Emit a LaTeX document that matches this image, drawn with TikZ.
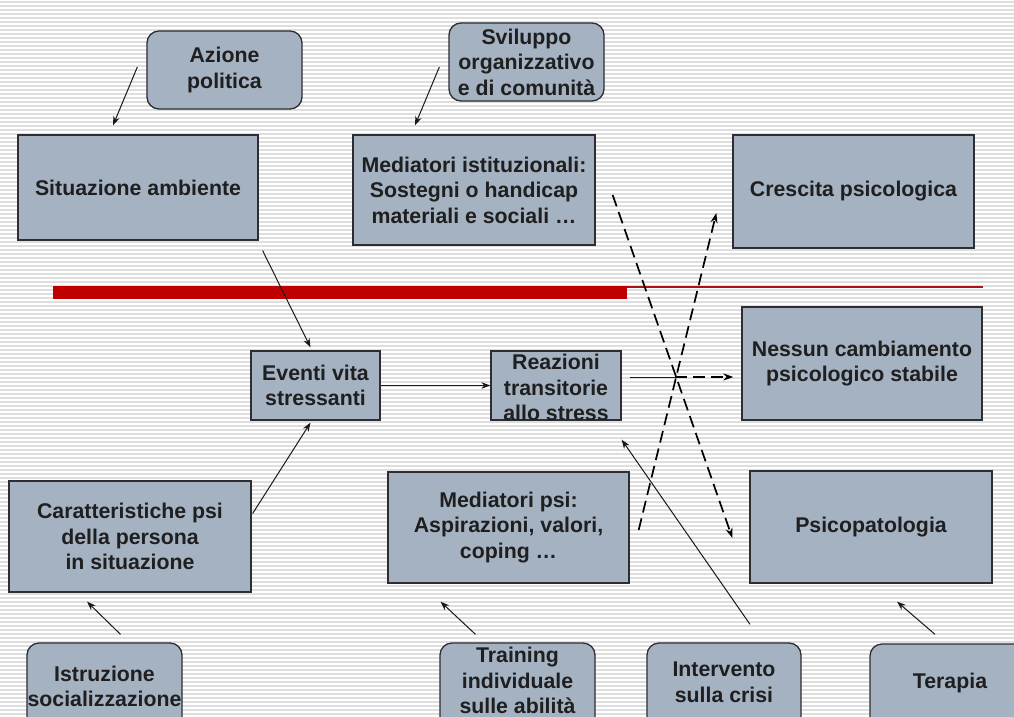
\documentclass[tikz,border=0pt]{standalone}
\usepackage{fontspec}
\setmainfont{Liberation Sans}
\usetikzlibrary{arrows.meta,calc}
\definecolor{boxfill}{RGB}{164,178,194}
\definecolor{boxline}{RGB}{45,45,50}
\definecolor{stripe}{RGB}{222,222,222}
\definecolor{barred}{RGB}{192,0,0}
\definecolor{thinred}{RGB}{170,20,20}
\begin{document}
\begin{tikzpicture}[x=1pt,y=-1pt,
  box/.style={draw=boxline, fill=boxfill, line width=1.3pt, inner sep=0pt, rectangle},
  rbox/.style={box, rounded corners=12pt},
  txt/.style={font=\bfseries\fontsize{21.3}{25.5}\selectfont, align=center, text=black!88, inner sep=0pt},
  link/.style={draw=black!90, line width=1pt, -{Stealth[length=9pt,width=6.5pt]}},
  dlink/.style={draw=black, line width=1.7pt, dash pattern=on 12pt off 6pt, -{Stealth[length=10pt,width=7pt]}}]
\useasboundingbox (0,0) rectangle (1014,717);
\clip (0,0) rectangle (1014,717);
% striped background
\fill[white] (0,0) rectangle (1014,717);
\foreach \y in {2,6,...,717} \draw[stripe, line width=1.2pt] (0,\y) -- (1014,\y);

% red divider
\fill[barred] (53,286) rectangle (627,299);
\draw[thinred, line width=1.1pt] (627,287) -- (983,287);

% top row
\node[rbox, minimum width=155, minimum height=78, label={[txt]center:{Azione\\politica}}] (azione) at (224.5,70) {};
\node[box, minimum width=240, minimum height=105, label={[txt]center:{Situazione ambiente}}] (situ) at (138,187.5) {};
\node[rbox, minimum width=155, minimum height=78, label={[txt]center:{Sviluppo\\organizzativo\\e di comunità}}] (svil) at (526.5,62) {};
\node[box, minimum width=242, minimum height=110, label={[txt]center:{Mediatori istituzionali:\\Sostegni o handicap\\materiali e sociali \dots}}] (medist) at (474,190) {};
\node[box, minimum width=241, minimum height=113, label={[txt]center:{Crescita psicologica}}] (cresc) at (853.5,191.5) {};

% middle row
\node[box, minimum width=240, minimum height=113, label={[txt]center:{Nessun cambiamento\\psicologico stabile}}] (nessun) at (862,363.5) {};
\node[box, minimum width=129, minimum height=69, label={[txt]center:{Eventi vita\\stressanti}}] (eventi) at (315.5,385.5) {};
\node[box, minimum width=130, minimum height=69, label={[txt,yshift=-2pt]center:{Reazioni\\transitorie\\allo stress}}] (reaz) at (556,385.5) {};

% lower row
\node[box, minimum width=242, minimum height=111, label={[txt]center:{Caratteristiche psi\\della persona\\in situazione}}] (caratt) at (130,536.5) {};
\node[box, minimum width=241, minimum height=111, label={[txt]center:{Mediatori psi:\\Aspirazioni, valori,\\coping \dots}}] (medpsi) at (508.5,527.5) {};
\node[box, minimum width=242, minimum height=112, label={[txt]center:{Psicopatologia}}] (psicop) at (871,527) {};

% interventions along the bottom edge
\node[rbox, minimum width=155, minimum height=87, label={[txt]center:{Istruzione\\\makebox[0pt]{socializzazione}}}] (istr) at (104.5,686.5) {};
\node[rbox, minimum width=155, minimum height=87, label={[txt,yshift=6pt]center:{Training\\individuale\\sulle abilità}}] (train) at (517.5,686.5) {};
\node[rbox, minimum width=154, minimum height=87, label={[txt,yshift=4pt]center:{Intervento\\sulla crisi}}] (interv) at (724,686.5) {};
\node[rbox, minimum width=160, minimum height=86, label={[txt,yshift=4pt]center:{Terapia}}] (terapia) at (950,687) {};

% influences
\draw[link] ($(azione.west)+(-9,-3)$) -- ($(situ.north)+(-25,-9)$);
\draw[link] ($(svil.west)+(-9,5)$) -- ($(medist.north)+(-59,-9)$);
\draw[link] ($(situ.south east)+(4,10)$) -- ($(eventi.north)+(-5,-3)$);
\draw[link] ($(caratt.east)+(1,-23)$) -- ($(eventi.south)+(-5,2)$);
\draw[link] ($(istr.north)+(16,-8)$) -- ($(caratt.south)+(-43,9)$);
\draw[link] (eventi.east) -- (reaz.west);
\draw[link] ($(train.north)+(-42,-8)$) -- ($(medpsi.south)+(-68,18)$);
\draw[link] ($(interv.north)+(26,-18)$) -- ($(reaz.south east)+(0,19)$);
\draw[link] ($(terapia.north)+(-15,-9)$) -- ($(psicop.south)+(26,18)$);

% outcomes
\coordinate (fork) at (675,377);
\draw[draw=black!90, line width=1pt] ($(reaz.east)+(8,-8.5)$) -- (fork);
\draw[dlink] (fork) -- ($(nessun.west)+(-8,13.5)$);
\draw[dlink] ($(medist.east)+(17,5)$) -- ($(psicop.west)+(-17,11)$);
\draw[dlink] ($(medpsi.east)+(9,2.5)$) -- ($(cresc.west)+(-16,21.5)$);
\end{tikzpicture}
\end{document}
